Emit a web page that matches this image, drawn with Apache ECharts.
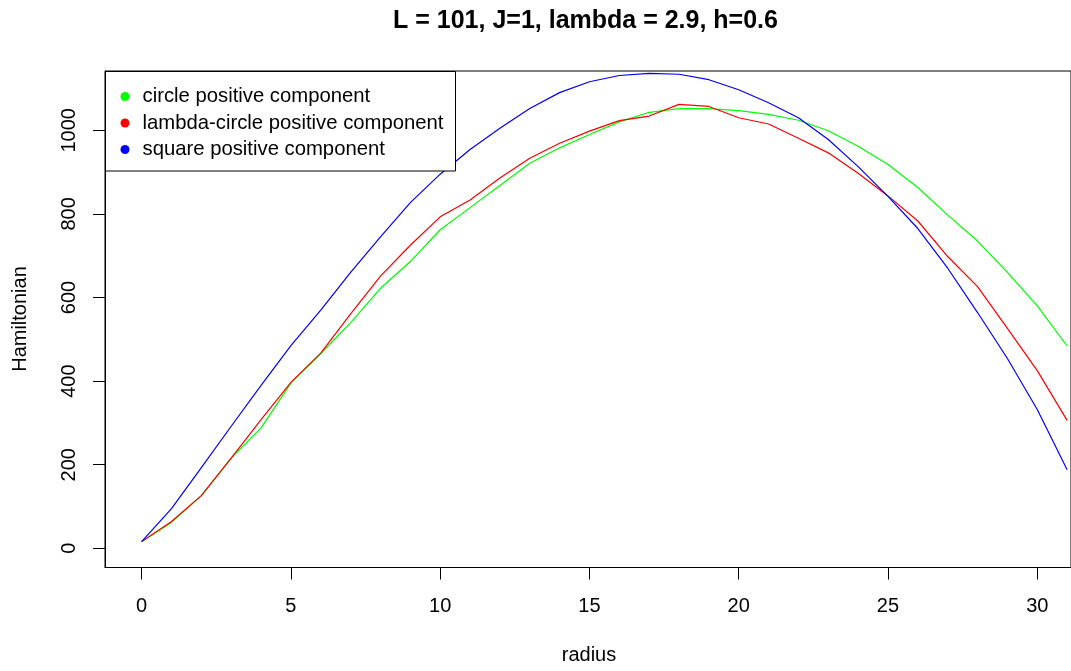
<!DOCTYPE html>
<html>
<head>
<meta charset="utf-8">
<script src="https://cdn.jsdelivr.net/npm/echarts@6/dist/echarts.min.js"></script>
<style>
html,body{margin:0;padding:0;background:#fff;}
#chart{width:1071px;height:671px;}
</style>
</head>
<body>
<div id="chart"></div>
<script>
const radius = [0,1,2,3,4,5,6,7,8,9,10,11,12,13,14,15,16,17,18,19,20,21,22,23,24,25,26,27,28,29,30,31];
const circlePos = [16,62,126,216,288,395,466,540,622,686,762,815,868,921,958,990,1020,1043,1052,1052,1047,1038,1024,999,962,918,863,797,735,660,580,484];
const lambdaCirclePos = [16,64,126,216,308,397,467,561,651,725,793,833,886,933,969,998,1023,1034,1062,1057,1030,1015,981,946,897,843,783,698,626,526,425,306];
const squarePos = [16,95,193,292,390,485,570,660,745,827,895,954,1005,1052,1090,1116,1131,1136,1134,1121,1097,1066,1030,978,913,842,765,670,564,454,332,188];
const xTicks = [0,5,10,15,20,25,30];
const yTicks = [0,200,400,600,800,1000];
const seriesNames = ['circle positive component','lambda-circle positive component','square positive component'];
const seriesColors = ['#00ff00','#ff0000','#0000ff'];
const titleText = 'L = 101, J=1, lambda = 2.9, h=0.6';
const xLabel = 'radius';
const yLabel = 'Hamiltonian';

const FONT = "'Liberation Sans', Arial, Helvetica, sans-serif";
const chart = echarts.init(document.getElementById('chart'), null, {renderer:'canvas'});
const valueSets = [circlePos, lambdaCirclePos, squarePos];

chart.setOption({
  animation: false,
  backgroundColor: '#fff',
  textStyle: {fontFamily: FONT},
  grid: {left:105, top:71, width:968, height:496.5, show:true, borderColor:'#000', borderWidth:1, containLabel:false},
  xAxis: {
    type:'value', min:-1.227, max:31.13,
    axisLine:{show:true, onZero:false, lineStyle:{color:'#000', width:1}},
    axisTick:{show:true, length:12, customValues: xTicks, lineStyle:{color:'#000', width:1}},
    axisLabel:{customValues: xTicks, fontSize:20, color:'#000', fontFamily:FONT, margin:29, formatter: v => String(v)},
    splitLine:{show:false}
  },
  yAxis: {
    type:'value', min:-45.9, max:1141.8,
    axisLine:{show:true, onZero:false, lineStyle:{color:'#000', width:1}},
    axisTick:{show:true, length:12, customValues: yTicks, lineStyle:{color:'#000', width:1}},
    axisLabel:{customValues: yTicks, fontSize:20, color:'#000', fontFamily:FONT, rotate:90, margin:26, formatter: v => String(v)},
    splitLine:{show:false}
  },
  legend: {
    orient:'vertical', left:120.5, top:86.5, padding:0, itemGap:6.5,
    icon:'circle', itemWidth:25, itemHeight:9, z:20,
    textStyle:{fontSize:20.3, color:'#000', fontFamily:FONT},
    data: seriesNames
  },
  graphic: [
    {type:'rect', z:15, shape:{x:105.5, y:71.5, width:350, height:99.5}, style:{fill:'#fff', stroke:'#000', lineWidth:1}},
    {type:'text', z:20, x:585.5, y:21, style:{text:titleText, font:"bold 25px "+FONT, fill:'#000', textAlign:'center', textVerticalAlign:'middle'}},
    {type:'text', z:20, x:589, y:655, style:{text:xLabel, font:"20px "+FONT, fill:'#000', textAlign:'center', textVerticalAlign:'middle'}},
    {type:'text', z:20, x:20, y:319, rotation:Math.PI/2, style:{text:yLabel, font:"20px "+FONT, fill:'#000', textAlign:'center', textVerticalAlign:'middle'}}
  ],
  series: seriesNames.map((n,i)=>({
    name:n, type:'line', showSymbol:false, symbol:'none', smooth:false, clip:true,
    lineStyle:{color:seriesColors[i], width:1.2}, itemStyle:{color:seriesColors[i]},
    data: radius.map((r,k)=>[r, valueSets[i][k]])
  }))
});
</script>
</body>
</html>
